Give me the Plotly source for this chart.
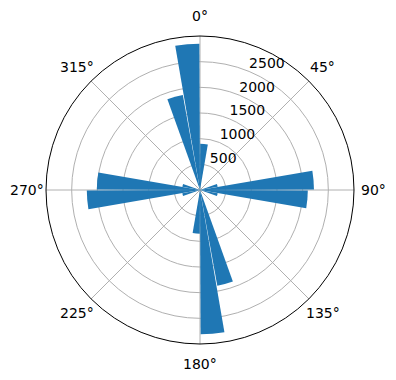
import math
import plotly.graph_objects as go

# bin centers (compass degrees, clockwise from north) and counts
directions = [355, 345, 5, 85, 95, 175, 165, 185, 265, 275, 75, 105, 255, 285]
counts = [2850, 1880, 900, 2220, 2100, 2810, 1895, 850, 2205, 2010, 350, 350, 350, 350]
angle_ticks = [0, 45, 90, 135, 180, 225, 270, 315]
radial_ticks = [500, 1000, 1500, 2000, 2500]
r_max = 3000
radial_label_angle = 22.5

W, H = 396, 380
cx, cy, R = 200, 190, 154      # polar frame centre / radius in px
label_pad = 19.5               # gap between frame and angle labels, px

fig = go.Figure()
fig.add_trace(go.Barpolar(
    r=counts,
    theta=directions,
    width=[9.5] * len(directions),
    marker=dict(color="#1f77b4", line=dict(width=0)),
    opacity=1, hoverinfo="skip",
))
# radial tick labels
fig.add_trace(go.Scatterpolar(
    r=radial_ticks, theta=[radial_label_angle] * len(radial_ticks),
    mode="text", text=[str(v) for v in radial_ticks],
    textposition="top right", textfont=dict(size=14, color="black", family="DejaVu Sans"),
    hoverinfo="skip", cliponaxis=False,
))

# angular tick labels, placed just outside the frame
annotations = []
for a in angle_ticks:
    rad = math.radians(a)
    px = cx + (R + label_pad) * math.sin(rad)
    py = cy - (R + label_pad) * math.cos(rad)
    annotations.append(dict(
        x=px / W, y=1 - py / H, xref="paper", yref="paper",
        text=f"{a}°", showarrow=False, xanchor="center", yanchor="middle",
        font=dict(size=14, color="black", family="DejaVu Sans"),
    ))

fig.update_layout(
    width=W, height=H,
    margin=dict(l=0, r=0, t=0, b=0),
    paper_bgcolor="white",
    showlegend=False,
    font=dict(family="DejaVu Sans", size=14, color="black"),
    annotations=annotations,
    polar=dict(
        domain=dict(x=[(cx - R) / W, (cx + R) / W], y=[(H - cy - R) / H, (H - cy + R) / H]),
        bgcolor="white",
        bargap=0,
        angularaxis=dict(
            rotation=90, direction="clockwise",
            tickmode="array", tickvals=angle_ticks,
            showticklabels=False, ticks="",
            showline=True, linecolor="black", linewidth=1,
            showgrid=True, gridcolor="#b0b0b0", gridwidth=1,
        ),
        radialaxis=dict(
            range=[0, r_max], angle=67.5,
            tickmode="array", tickvals=radial_ticks,
            showticklabels=False, showline=False, ticks="",
            showgrid=True, gridcolor="#b0b0b0", gridwidth=1,
        ),
    ),
)
fig.write_html("out.html")
